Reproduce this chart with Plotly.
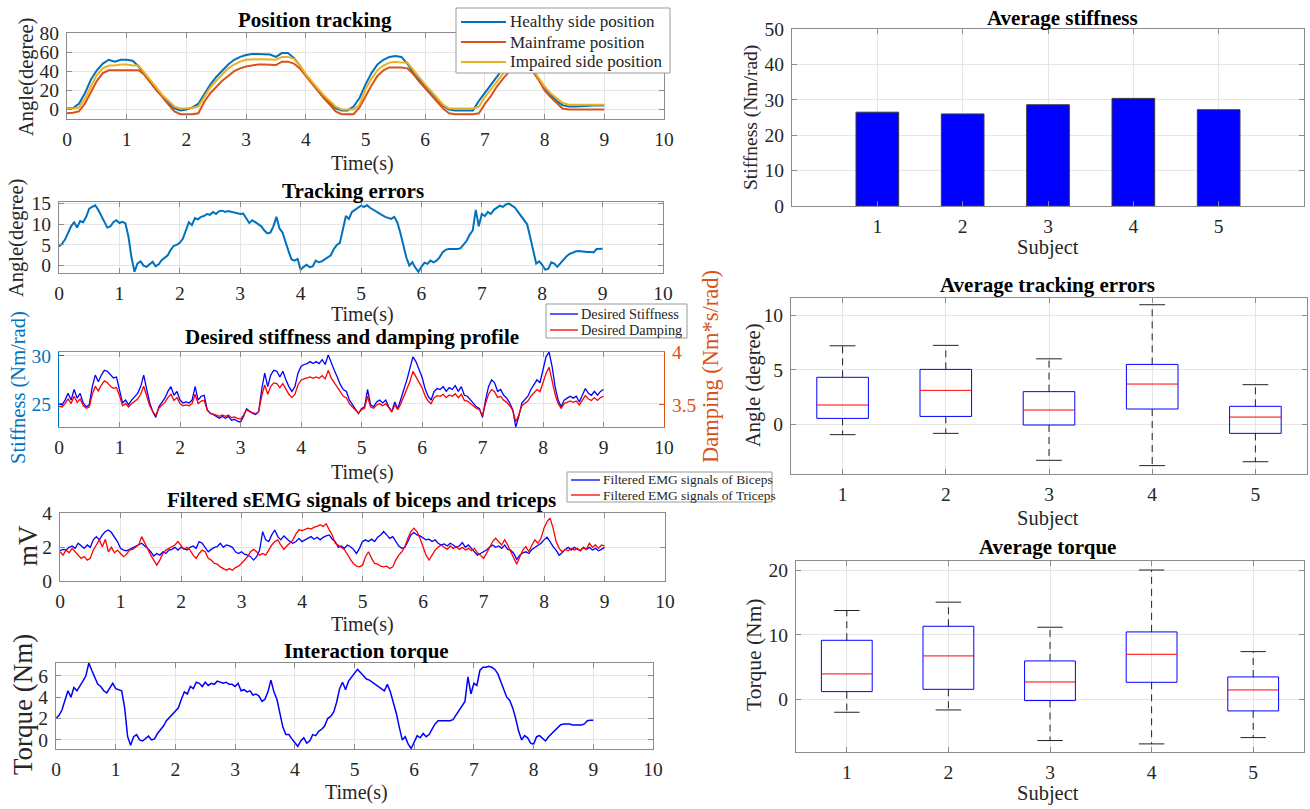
import numpy as np
import plotly.graph_objects as go

W, H = 1310, 809
FONT = "Liberation Serif, Times New Roman, serif"

# ---------------- data ----------------
# Position tracking (sampled every 0.1 s, 0..9 s)
healthy_pos = [1, 1.5, 6, 17, 31, 41, 48, 52, 50, 52,
               52, 51, 45, 36, 28, 20, 13, 7, 1, -1,
               0, 2, 6, 16, 26, 34, 41, 47, 52, 55,
               57, 58, 58, 58, 57.5, 55, 59, 59, 54, 46,
               36, 28, 20, 13, 7, 1, -1, -1, 3, 12,
               26, 38, 47, 52, 55, 56, 55, 48, 38, 31,
               24, 17, 10, 4, 0, -1, -1, -1, -1, 9,
               17, 25, 34, 43, 50, 55, 57, 55, 42, 31,
               22, 15, 9, 4.5, 3, 3, 3, 3.5, 4, 4,
               4]
mainframe_pos = [-4, -3.5, -2, 6, 18, 30, 38, 41, 41, 41,
                 41, 41, 41, 36, 28, 20, 12, 5, -2, -5,
                 -5, -5, -4, 8, 17, 24, 30, 35, 40, 43,
                 45, 46, 47, 47, 47, 46.5, 50, 50, 48, 43,
                 35, 27, 19, 12, 5, -2, -5, -5, -5, 2,
                 14, 25, 35, 41, 44, 44, 44, 43, 37, 29,
                 22, 15, 8, 1, -4, -5, -5, -5, -5, -4,
                 6, 14, 24, 32, 39, 44, 46, 45, 40, 31,
                 20, 13, 7, 1, 0, 0, 0, 0, 0, 0,
                 0]
impaired_pos = [1, 1, 2, 11, 24, 36, 43, 46, 46, 47,
                47, 46, 46, 38, 30, 22, 15, 9, 3, 1,
                1, 1.5, 3, 13, 23, 30, 37, 43, 47, 50,
                52, 52.5, 52.5, 52.5, 52.5, 52, 55, 55, 53, 46,
                37, 29, 22, 15, 9, 3, 0, 0, 0, 5,
                21, 32, 41, 46, 49, 50, 49, 49, 41, 33,
                26, 19, 12, 5, 1, 1, 1, 1, 1, 3,
                13, 21, 29, 38, 45, 50, 52, 51, 43, 33,
                24, 17, 12, 7, 5, 5, 5, 5, 5, 5,
                5]

# Tracking error (every 0.05 s)
tracking_error = [4.6, 5.3, 6.3, 7.8, 9.5, 10.5, 9.2, 10.8, 10.5, 11.8, 13.8, 14.2, 14.6, 13.5, 12.0, 10.8, 9.2, 9.5, 10.5, 11.0,
                  10.3, 10.6, 10.2, 7.0, 2.0, -1.5, 0.5, 1.0, 0.0, -0.3, 0.2, 0.9, -0.2, 0.3, 1.3, 1.8, 2.5, 3.8, 4.8, 5.0,
                  5.5, 6.5, 8.5, 10.5, 9.8, 11.5, 11.2, 11.8, 12.0, 12.5, 12.3, 13.0, 12.5, 13.2, 13.3, 13.0, 13.2, 13.0, 12.8, 12.6,
                  12.5, 12.6, 11.5, 10.3, 11.0, 10.5, 10.2, 9.5, 8.5, 7.8, 8.0, 9.5, 11.8, 9.0, 8.0, 5.5, 3.5, 1.5, 1.2, 1.6,
                  -1.0, -0.3, 0.2, -0.4, -0.2, 1.2, 0.8, 1.0, 1.5, 2.0, 2.5, 4.0, 5.0, 5.5, 9.0, 12.0, 11.3, 13.0, 13.5, 14.0,
                  14.5, 14.2, 14.6, 14.0, 13.5, 13.0, 12.6, 12.2, 11.8, 11.5, 11.3, 11.8, 10.5, 8.0, 5.0, 2.0, 0.0, 0.8, -0.5, -1.5,
                  -0.3, 0.7, 0.4, 1.2, 0.8, 1.2, 2.0, 3.2, 3.8, 4.0, 4.0, 4.0, 4.0, 4.2, 5.0, 6.0, 7.5, 8.5, 13.5, 9.5,
                  12.5, 12.0, 13.0, 12.5, 13.5, 14.0, 14.5, 14.2, 14.8, 15.0, 14.6, 14.0, 13.0, 12.0, 11.0, 10.0, 7.0, 3.5, 0.5, 1.0,
                  0.2, -1.0, -0.8, 0.8, 0.5, -0.3, 0.5, 1.5, 2.2, 2.8, 3.2, 3.4, 3.5, 3.4, 3.4, 3.3, 3.3, 3.2, 4.0, 4.1,
                  4.1]

# Desired stiffness (Nm/rad) and damping (Nm*s/rad), every 0.05 s
desired_stiffness = [25.0, 24.9, 25.4, 26.1, 25.4, 26.5, 25.6, 26.1, 25.1, 24.7, 24.9, 26.8, 28.0, 27.3, 28.0, 28.5, 28.4, 28.0, 27.7, 27.8,
                     26.6, 25.1, 25.4, 24.9, 25.4, 25.8, 26.1, 26.8, 28.0, 26.5, 25.1, 24.2, 23.6, 24.7, 25.2, 25.6, 26.3, 26.8, 25.9, 26.3,
                     25.4, 25.1, 25.2, 25.1, 25.4, 26.8, 25.4, 25.8, 25.9, 24.4, 24.0, 23.9, 23.7, 23.5, 23.7, 23.5, 23.7, 23.3, 23.4, 23.2,
                     23.1, 23.7, 24.5, 24.2, 24.0, 23.9, 24.2, 26.5, 28.2, 26.8, 28.0, 28.5, 28.4, 27.8, 28.4, 27.5, 26.8, 26.3, 26.8, 28.2,
                     28.9, 29.1, 29.2, 29.4, 29.2, 29.4, 29.2, 29.6, 29.1, 30.1, 29.2, 28.5, 27.8, 27.0, 26.5, 26.3, 25.4, 24.9, 24.4, 24.0,
                     24.5, 24.7, 26.5, 24.9, 24.7, 25.2, 25.4, 25.1, 25.4, 24.7, 24.2, 25.2, 24.5, 25.4, 26.5, 27.5, 28.7, 29.9, 29.4, 28.5,
                     27.8, 26.6, 25.8, 25.4, 26.3, 26.6, 26.5, 26.8, 26.3, 26.7, 26.5, 26.9, 26.3, 26.8, 25.9, 25.8, 25.4, 25.1, 24.7, 24.5,
                     23.6, 25.4, 26.8, 27.5, 27.2, 26.3, 26.5, 25.9, 25.6, 25.1, 24.4, 22.6, 23.7, 25.1, 25.4, 25.8, 26.5, 27.0, 27.5, 27.2,
                     28.7, 29.9, 30.4, 28.9, 26.8, 25.4, 24.7, 25.4, 25.6, 25.8, 25.6, 25.8, 25.2, 25.9, 26.6, 26.1, 25.9, 26.3, 25.9, 26.3,
                     26.5]
desired_damping = [3.487, 3.481, 3.513, 3.557, 3.513, 3.583, 3.525, 3.557, 3.493, 3.468, 3.481, 3.602, 3.678, 3.634, 3.690, 3.730, 3.712, 3.678, 3.659, 3.666,
                   3.589, 3.493, 3.513, 3.481, 3.513, 3.538, 3.557, 3.602, 3.678, 3.583, 3.493, 3.436, 3.400, 3.468, 3.500, 3.525, 3.570, 3.602, 3.544, 3.570,
                   3.513, 3.493, 3.500, 3.493, 3.513, 3.602, 3.513, 3.538, 3.544, 3.449, 3.423, 3.417, 3.404, 3.391, 3.404, 3.391, 3.404, 3.379, 3.385, 3.372,
                   3.366, 3.404, 3.455, 3.436, 3.423, 3.417, 3.436, 3.583, 3.691, 3.602, 3.678, 3.710, 3.704, 3.666, 3.704, 3.647, 3.602, 3.570, 3.602, 3.691,
                   3.736, 3.749, 3.755, 3.768, 3.755, 3.768, 3.755, 3.780, 3.749, 3.830, 3.755, 3.710, 3.666, 3.615, 3.583, 3.570, 3.513, 3.481, 3.449, 3.423,
                   3.455, 3.468, 3.583, 3.481, 3.468, 3.500, 3.513, 3.493, 3.513, 3.468, 3.436, 3.500, 3.455, 3.513, 3.583, 3.647, 3.723, 3.820, 3.768, 3.710,
                   3.666, 3.589, 3.538, 3.513, 3.570, 3.589, 3.583, 3.602, 3.570, 3.595, 3.583, 3.608, 3.570, 3.602, 3.544, 3.538, 3.513, 3.493, 3.468, 3.455,
                   3.398, 3.513, 3.602, 3.647, 3.627, 3.570, 3.583, 3.544, 3.525, 3.493, 3.449, 3.340, 3.404, 3.493, 3.513, 3.538, 3.583, 3.615, 3.647, 3.627,
                   3.723, 3.800, 3.860, 3.736, 3.602, 3.513, 3.468, 3.513, 3.525, 3.538, 3.525, 3.538, 3.500, 3.544, 3.589, 3.557, 3.544, 3.570, 3.544, 3.570,
                   3.583]

# Filtered sEMG (mV), every 0.05 s
emg_biceps = [1.78, 1.86, 1.82, 1.98, 2.06, 1.92, 2.22, 2.06, 1.92, 2.12, 1.98, 2.42, 2.61, 2.42, 2.71, 2.91, 3.00, 2.85, 2.61, 2.32,
              1.92, 1.82, 1.78, 1.86, 1.98, 2.06, 2.12, 2.22, 2.06, 1.92, 1.72, 1.47, 1.62, 1.52, 1.72, 1.62, 1.82, 1.86, 1.98, 1.82,
              1.98, 1.92, 1.82, 1.98, 2.06, 1.92, 2.32, 2.22, 1.98, 1.72, 1.86, 1.98, 2.02, 2.22, 1.98, 2.12, 2.06, 1.98, 1.72, 1.62,
              1.72, 1.58, 1.52, 1.43, 1.23, 1.43, 1.82, 2.90, 2.42, 2.32, 2.71, 3.00, 2.61, 2.42, 2.65, 2.46, 2.32, 2.22, 2.32, 2.51,
              2.32, 2.42, 2.51, 2.61, 2.46, 2.57, 2.42, 2.57, 2.65, 2.71, 2.46, 2.32, 1.98, 2.06, 1.92, 2.12, 2.02, 1.86, 1.62, 1.92,
              2.32, 2.42, 2.32, 2.46, 2.32, 2.57, 2.71, 2.91, 2.71, 2.51, 2.61, 2.32, 2.06, 1.92, 1.98, 2.32, 2.71, 2.85, 2.71, 2.65,
              2.51, 2.42, 2.46, 2.32, 2.42, 2.22, 2.12, 2.18, 2.06, 2.22, 2.12, 1.98, 2.06, 2.26, 1.98, 2.12, 1.92, 1.72, 1.52, 1.62,
              1.72, 1.82, 1.98, 2.12, 1.98, 2.06, 1.92, 2.12, 1.86, 1.82, 1.62, 1.27, 1.52, 1.66, 1.72, 1.62, 1.86, 1.98, 2.06, 2.22,
              2.42, 2.57, 2.32, 2.02, 1.82, 1.52, 1.66, 1.86, 1.98, 1.82, 1.98, 1.86, 1.78, 1.98, 1.86, 1.98, 1.82, 1.92, 1.78, 1.86,
              1.98]
emg_triceps = [1.72, 1.52, 1.82, 1.66, 1.92, 1.72, 1.52, 1.33, 1.43, 1.23, 1.33, 1.82, 2.12, 2.42, 2.02, 2.45, 1.72, 1.98, 1.66, 1.82,
               1.62, 1.43, 1.58, 1.82, 1.86, 1.98, 2.12, 2.61, 2.22, 1.92, 1.52, 1.23, 0.93, 1.23, 1.62, 1.82, 1.92, 1.98, 2.12, 2.32,
               2.06, 1.86, 1.98, 1.82, 1.52, 1.33, 1.62, 1.82, 1.72, 1.33, 1.23, 1.03, 0.99, 0.83, 0.73, 0.63, 0.73, 0.63, 0.79, 0.87,
               1.03, 1.23, 1.43, 1.72, 1.86, 1.72, 1.52, 1.62, 1.52, 1.82, 2.12, 2.32, 2.42, 2.12, 1.86, 2.06, 2.22, 2.42, 2.77, 3.01,
               2.97, 3.05, 3.11, 3.05, 3.17, 3.21, 3.31, 3.21, 3.37, 3.01, 2.71, 2.22, 2.12, 1.98, 1.86, 1.52, 1.27, 1.03, 0.87, 0.83,
               0.93, 1.43, 1.72, 1.33, 1.03, 0.99, 0.87, 0.83, 0.87, 0.73, 0.83, 1.23, 1.52, 1.72, 2.02, 2.51, 2.91, 3.11, 2.91, 2.51,
               2.02, 1.52, 1.23, 1.52, 1.82, 1.98, 2.12, 1.98, 1.86, 2.06, 1.92, 2.02, 1.86, 1.98, 1.82, 1.92, 1.78, 1.92, 1.66, 1.52,
               1.33, 1.62, 1.98, 2.32, 2.51, 2.32, 2.12, 2.42, 2.12, 1.72, 1.33, 0.99, 1.43, 1.82, 2.02, 1.72, 2.12, 2.42, 2.22, 2.51,
               3.11, 3.50, 3.70, 3.11, 2.32, 1.92, 1.72, 1.86, 1.78, 1.92, 1.82, 1.92, 1.78, 1.98, 1.86, 2.22, 1.98, 2.12, 1.92, 2.12,
               2.06]

# Interaction torque (Nm), every 0.05 s
interaction_torque = [2.0, 2.3, 2.8, 3.6, 4.6, 4.0, 4.9, 4.6, 5.0, 5.5, 6.0, 7.2, 6.5, 5.8, 5.2, 5.0, 4.6, 4.4, 4.8, 5.3,
                      4.8, 4.7, 4.6, 3.0, 0.3, -0.5, 0.3, 0.5, 0.0, -0.1, 0.1, 0.35, 0.0, 0.1, 0.6, 0.9, 1.3, 1.8, 2.1, 2.3,
                      2.6, 3.0, 3.8, 4.5, 4.3, 5.0, 4.8, 5.4, 5.3, 5.0, 5.4, 5.1, 5.3, 5.2, 5.5, 5.4, 5.3, 5.4, 5.2, 5.2,
                      5.0, 5.3, 4.6, 4.7, 4.5, 4.6, 4.2, 4.3, 4.1, 3.6, 3.8, 4.5, 5.6, 4.5, 3.8, 2.5, 1.2, 0.5, 0.5, 0.1,
                      -0.3, -0.6, -0.1, 0.2, -0.3, -0.1, 0.5, 0.4, 0.8, 1.0, 1.3, 2.0, 2.2, 2.6, 3.5, 4.8, 5.4, 4.7, 5.5, 5.9,
                      6.2, 6.6, 6.3, 6.0, 5.7, 5.6, 5.4, 5.2, 5.0, 4.8, 4.6, 5.2, 4.5, 3.5, 2.5, 1.2, 0.0, 0.3, -0.4, -0.8,
                      -0.2, 0.4, 0.2, 0.6, 0.3, 0.5, 1.0, 1.5, 1.8, 1.8, 1.8, 1.8, 1.8, 1.9, 2.3, 2.8, 3.2, 3.6, 5.9, 4.3,
                      5.3, 5.1, 6.5, 6.8, 6.8, 6.9, 6.8, 6.6, 6.2, 5.5, 4.8, 4.0, 3.7, 3.0, 2.0, 0.8, 0.0, 0.4, 0.2, -0.3,
                      -0.4, 0.3, 0.4, 0.1, -0.1, 0.3, 0.6, 0.9, 1.2, 1.4, 1.5, 1.5, 1.5, 1.4, 1.4, 1.4, 1.4, 1.5, 1.8, 1.85,
                      1.85]

# Subject statistics
subjects = [1, 2, 3, 4, 5]
avg_stiffness = [26.5, 26.0, 28.6, 30.4, 27.2]
err_q1 = [0.52, 0.70, -0.09, 1.38, -0.86]
err_med = [1.75, 3.10, 1.29, 3.68, 0.64]
err_q3 = [4.30, 5.03, 2.98, 5.49, 1.63]
err_lo = [-0.98, -0.86, -3.34, -3.83, -3.47]
err_hi = [7.20, 7.24, 6.00, 10.98, 3.62]
tq_q1 = [1.19, 1.55, -0.20, 2.64, -1.81]
tq_med = [3.94, 6.74, 2.69, 7.00, 1.45]
tq_q3 = [9.17, 11.35, 5.96, 10.47, 3.47]
tq_lo = [-2.02, -1.66, -6.42, -6.94, -5.96]
tq_hi = [13.8, 15.1, 11.2, 20.1, 7.41]

pos_names = ["Healthy side position", "Mainframe position", "Impaired side position"]
profile_names = ["Desired Stiffness", "Desired Damping"]
emg_names = ["Filtered EMG signals of Biceps", "Filtered EMG signals of Triceps"]

t_pos = np.round(np.linspace(0, 9, len(healthy_pos)), 3)
t_fast = np.round(np.linspace(0, 9, len(tracking_error)), 3)

C_BLUE, C_ORANGE, C_YELLOW = "#0072BD", "#D95319", "#EDB120"
PURE_BLUE, PURE_RED = "#0000FF", "#FF0000"

# ---------------- figure ----------------
fig = go.Figure()


def fx(p):
    return p / W


def fy(p):
    return 1 - p / H


def line_trace(x, y, color, width, xa, ya, name=None):
    fig.add_trace(go.Scatter(x=x, y=y, mode="lines", name=name, showlegend=False,
                             line=dict(color=color, width=width), xaxis=xa, yaxis=ya))


# panel 1
line_trace(t_pos, healthy_pos, C_BLUE, 2, "x", "y", pos_names[0])
line_trace(t_pos, mainframe_pos, C_ORANGE, 2, "x", "y", pos_names[1])
line_trace(t_pos, impaired_pos, C_YELLOW, 2, "x", "y", pos_names[2])
# panel 2
line_trace(t_fast, tracking_error, C_BLUE, 2, "x2", "y2")
# panel 3
line_trace(t_fast, desired_stiffness, PURE_BLUE, 1.3, "x3", "y3", profile_names[0])
line_trace(t_fast, desired_damping, PURE_RED, 1.3, "x3", "y9", profile_names[1])
# panel 4
line_trace(t_fast, emg_biceps, PURE_BLUE, 1.3, "x4", "y4", emg_names[0])
line_trace(t_fast, emg_triceps, PURE_RED, 1.3, "x4", "y4", emg_names[1])
# panel 5
line_trace(t_fast, interaction_torque, PURE_BLUE, 1.5, "x5", "y5")

# right: bars
fig.add_trace(go.Bar(x=subjects, y=avg_stiffness, width=0.5, showlegend=False,
                     marker=dict(color=PURE_BLUE, line=dict(color="#3a3a3a", width=1)),
                     xaxis="x6", yaxis="y6"))


def add_boxes(xa, ya, q1, med, q3, lo, hi):
    bx, by, mx, my, wx, wy, cx, cy = [], [], [], [], [], [], [], []
    for s, a, m, b, l, h in zip(subjects, q1, med, q3, lo, hi):
        wx += [s, s, None, s, s, None]
        wy += [b, h, None, a, l, None]
        cx += [s - 0.125, s + 0.125, None, s - 0.125, s + 0.125, None]
        cy += [h, h, None, l, l, None]
        bx += [s - 0.25, s + 0.25, s + 0.25, s - 0.25, s - 0.25, None]
        by += [a, a, b, b, a, None]
        mx += [s - 0.25, s + 0.25, None]
        my += [m, m, None]
    fig.add_trace(go.Scatter(x=wx, y=wy, mode="lines", showlegend=False, hoverinfo="skip",
                             line=dict(color="#222222", width=1, dash="7px,5px"), xaxis=xa, yaxis=ya))
    fig.add_trace(go.Scatter(x=cx, y=cy, mode="lines", showlegend=False, hoverinfo="skip",
                             line=dict(color="#222222", width=1), xaxis=xa, yaxis=ya))
    fig.add_trace(go.Scatter(x=bx, y=by, mode="lines", showlegend=False, hoverinfo="skip",
                             line=dict(color=PURE_BLUE, width=1), xaxis=xa, yaxis=ya))
    fig.add_trace(go.Scatter(x=mx, y=my, mode="lines", showlegend=False, hoverinfo="skip",
                             line=dict(color=PURE_RED, width=1), xaxis=xa, yaxis=ya))


add_boxes("x7", "y7", err_q1, err_med, err_q3, err_lo, err_hi)
add_boxes("x8", "y8", tq_q1, tq_med, tq_q3, tq_lo, tq_hi)

LINE = "#8c8c8c"
GRID = "#e5e5e5"
TSIZE = 19.5
TICKFONT = dict(family=FONT, size=TSIZE, color="#262626")


def ax(**kw):
    d = dict(showline=True, linecolor=LINE, linewidth=1, mirror="ticks", ticks="inside",
             ticklen=5, tickcolor=LINE, showgrid=True, gridcolor=GRID, gridwidth=1,
             zeroline=False, tickfont=TICKFONT, ticklabelstandoff=3, automargin=False)
    d.update(kw)
    return d


def xdom(a, b):
    return [fx(a), fx(b)]


def ydom(top, bottom):
    return [fy(bottom), fy(top)]


layout = dict(
    width=W, height=H, margin=dict(l=0, r=0, t=0, b=0, autoexpand=False),
    paper_bgcolor="white", plot_bgcolor="white", showlegend=False,
    font=dict(family=FONT, color="#262626"),
    xaxis=ax(domain=xdom(67, 664), anchor="y", range=[0, 10], dtick=1),
    yaxis=ax(domain=ydom(33, 119), anchor="x", range=[-10, 80], dtick=20),
    xaxis2=ax(domain=xdom(59, 663), anchor="y2", range=[0, 10], dtick=1),
    yaxis2=ax(domain=ydom(202, 273), anchor="x2", range=[-1.8, 15.4], dtick=5),
    xaxis3=ax(domain=xdom(59, 664), anchor="y3", range=[0, 10], dtick=1),
    yaxis3=ax(domain=ydom(352, 427), anchor="x3", range=[22.6, 30.4], dtick=5,
              mirror=False, linecolor=C_BLUE, tickcolor=C_BLUE,
              tickfont=dict(family=FONT, size=TSIZE, color=C_BLUE)),
    yaxis9=dict(overlaying="y3", side="right", anchor="x3", range=[3.29, 4.005], dtick=0.5,
                showline=True, linecolor=C_ORANGE, linewidth=1, ticks="inside", ticklen=5,
                tickcolor=C_ORANGE, showgrid=False, zeroline=False, ticklabelstandoff=3,
                automargin=False, tickfont=dict(family=FONT, size=TSIZE, color=C_ORANGE)),
    xaxis4=ax(domain=xdom(60, 665), anchor="y4", range=[0, 10], dtick=1),
    yaxis4=ax(domain=ydom(513, 581), anchor="x4", range=[0, 4], dtick=2),
    xaxis5=ax(domain=xdom(56, 653), anchor="y5", range=[0, 10], dtick=1),
    yaxis5=ax(domain=ydom(663, 749), anchor="x5", range=[-0.85, 7.2], dtick=2),
    xaxis6=ax(domain=xdom(792, 1304), anchor="y6", range=[0, 6], tickvals=subjects),
    yaxis6=ax(domain=ydom(29, 206), anchor="x6", range=[0, 50], dtick=10),
    xaxis7=ax(domain=xdom(791, 1307), anchor="y7", range=[0.5, 5.5], tickvals=subjects),
    yaxis7=ax(domain=ydom(298, 474), anchor="x7", range=[-4.6, 11.6], dtick=5),
    xaxis8=ax(domain=xdom(796, 1304), anchor="y8", range=[0.5, 5.5], tickvals=subjects),
    yaxis8=ax(domain=ydom(561, 752), anchor="x8", range=[-8.2, 21.5], dtick=10),
)
fig.update_layout(**layout)


def label(x, y, s, size=20, bold=False, angle=0, color="#262626", anchor="center"):
    fig.add_annotation(x=fx(x), y=fy(y), xref="paper", yref="paper",
                       text=f"<b>{s}</b>" if bold else s, showarrow=False, textangle=angle,
                       font=dict(family=FONT, size=size, color=color),
                       xanchor=anchor, yanchor="middle", borderpad=0)


def legend_box(box, entries, size, sample, text_x, row_y):
    x0, y0, x1, y1 = box
    fig.add_shape(type="rect", xref="paper", yref="paper", x0=fx(x0), x1=fx(x1),
                  y0=fy(y1), y1=fy(y0), fillcolor="white",
                  line=dict(color="#9a9a9a", width=1), layer="above")
    for (name, color, width), yy in zip(entries, row_y):
        fig.add_shape(type="line", xref="paper", yref="paper", x0=fx(sample[0]), x1=fx(sample[1]),
                      y0=fy(yy), y1=fy(yy), line=dict(color=color, width=width), layer="above")
        label(text_x, yy, name, size, anchor="left")


legend_box((456, 8, 670, 73),
           [(pos_names[0], C_BLUE, 2), (pos_names[1], C_ORANGE, 2), (pos_names[2], C_YELLOW, 2)],
           17, (461, 506), 509, (22, 42, 62))
legend_box((546, 304, 687, 338),
           [(profile_names[0], PURE_BLUE, 1.3), (profile_names[1], PURE_RED, 1.3)],
           14.3, (550, 578), 580, (314, 330))
legend_box((567, 472, 772, 502),
           [(emg_names[0], PURE_BLUE, 1.3), (emg_names[1], PURE_RED, 1.3)],
           13.4, (571, 600), 602, (480, 495))

# titles
TT = 21
label(315, 20, "Position tracking", TT, True, color="black")
label(353, 191, "Tracking errors", TT, True, color="black")
label(352, 337, "Desired stiffness and damping profile", TT, True, color="black")
label(361, 500, "Filtered sEMG signals of biceps and triceps", TT, True, color="black")
label(367, 651, "Interaction torque", TT, True, color="black")
label(1062, 18, "Average stiffness", TT, True, color="black")
label(1047, 285, "Average tracking errors", TT, True, color="black")
label(1047, 547, "Average torque", TT, True, color="black")

# x-axis titles
XT = 20
label(362, 163, "Time(s)", XT)
label(362, 314, "Time(s)", XT)
label(362, 473, "Time(s)", XT)
label(362, 624, "Time(s)", XT)
label(356, 792, "Time(s)", XT)
for yy in (247, 518, 793):
    label(1048, yy, "Subject", 20.5)

# y-axis titles
label(26, 77, "Angle(degree)", 20.5, angle=-90)
label(16, 238, "Angle(degree)", 20.5, angle=-90)
label(18, 388, "Stiffness (Nm/rad)", 20.5, angle=-90, color=C_BLUE)
label(710, 367, "Damping (Nm*s/rad)", 22.5, angle=-90, color=C_ORANGE)
label(28, 546, "mV", 27, angle=-90)
label(23, 705, "Torque (Nm)", 27, angle=-90)
label(751, 118, "Stiffness (Nm/rad)", 19.5, angle=-90)
label(753, 385, "Angle (degree)", 20.5, angle=-90)
label(754, 655, "Torque (Nm)", 21.5, angle=-90)

fig.write_html("out.html", config={"displayModeBar": False},
               post_script="document.body.style.margin='0px';")
